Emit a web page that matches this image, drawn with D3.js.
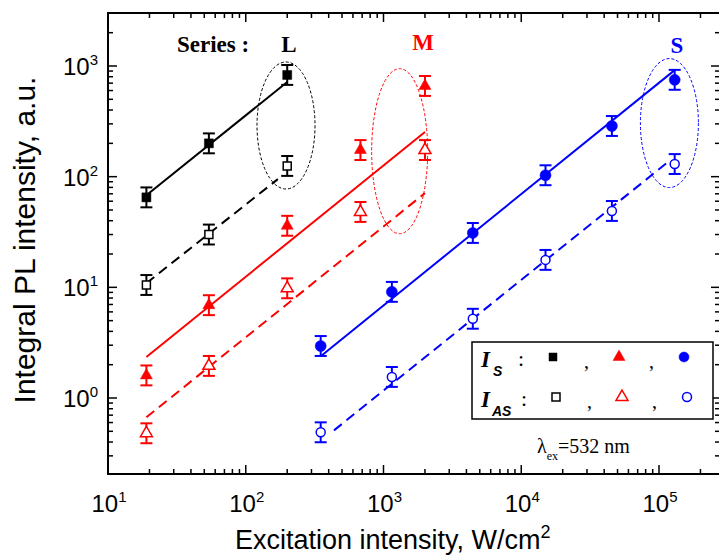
<!DOCTYPE html>
<html>
<head>
<meta charset="utf-8">
<script src="https://cdn.jsdelivr.net/npm/d3@7"></script>
<style>
  body { margin: 0; background: #fff; }
  svg { display: block; }
</style>
</head>
<body>
<svg id="chart" width="719" height="555"></svg>
<script>
// x values (excitation intensity, W/cm2)
const xL = [19, 54, 200];
const xM = [19, 54, 200, 680, 2000];
const xS = [350, 1150, 4450, 15000, 45500, 130000];

// Stokes (I_S) and anti-Stokes (I_AS) intensities, a.u.
const L_S = [65, 200, 830];
const L_AS = [10.5, 30, 125];
const M_S = [1.6, 6.9, 36, 174, 660];
const M_AS = [0.48, 1.95, 9.8, 48, 174];
const S_S = [2.95, 9.1, 31, 103, 287, 750];
const S_AS = [0.49, 1.55, 5.2, 17.7, 49, 130];

// error bars: multiplicative factor (about +-23 %)
const errFactor = 1.23;

// fitted lines, [x0, x1] and [y0, y1]
const fitL_S = [[19, 200], [68, 716]];
const fitL_AS = [[19, 171], [10.9, 95]];
const fitM_S = [[19, 2000], [2.35, 253]];
const fitM_AS = [[19, 2000], [0.67, 71]];
const fitS_S = [[352, 130000], [2.4, 918]];
const fitS_AS = [[437, 114000], [0.51, 133]];

const xTicks = [1e1, 1e2, 1e3, 1e4, 1e5];
const yTicks = [1e0, 1e1, 1e2, 1e3];

const svg = d3.select('#chart');

const pLeft = 108, pRight = 720, pTop = 13, pBottom = 474;
const x = d3.scaleLog()
  .domain([10, Math.pow(10, 1 + (pRight - pLeft) / 137.75)])
  .range([pLeft, pRight]);
const y = d3.scaleLog()
  .domain([Math.pow(10, -(pBottom - 398) / 110.67), Math.pow(10, 3 + (66 - pTop) / 110.67)])
  .range([pBottom, pTop]);

const sans = "'Liberation Sans', Arial, sans-serif";
const serif = "'Liberation Serif', 'Times New Roman', serif";
const red = '#ff0000', blue = '#0000ff';

// ellipses (annotations)
const ellipses = [
  {cx: 196, cy: 290, rx: 29, ry: 63.5, c: '#000'},
  {cx: 1310, cy: 170, rx: 28, ry: 82.5, c: red},
  {cx: 1.19e5, cy: 305, rx: 29, ry: 64.5, c: blue}
];
svg.selectAll('.ell').data(ellipses).enter().append('ellipse')
  .attr('cx', d => x(d.cx)).attr('cy', d => y(d.cy))
  .attr('rx', d => d.rx).attr('ry', d => d.ry)
  .style('fill', 'none').style('stroke', d => d.c)
  .style('stroke-width', 1).style('stroke-dasharray', '3,2');

// fit lines
const fits = [
  {f: fitL_S, c: '#000', dash: null},
  {f: fitL_AS, c: '#000', dash: '10,6'},
  {f: fitM_S, c: red, dash: null},
  {f: fitM_AS, c: red, dash: '10,6'},
  {f: fitS_S, c: blue, dash: null},
  {f: fitS_AS, c: blue, dash: '10,6'}
];
svg.selectAll('.fit').data(fits).enter().append('line')
  .attr('x1', d => x(d.f[0][0])).attr('x2', d => x(d.f[0][1]))
  .attr('y1', d => y(d.f[1][0])).attr('y2', d => y(d.f[1][1]))
  .style('stroke', d => d.c).style('stroke-width', 2)
  .style('stroke-dasharray', d => d.dash);

// marker drawing
const drawMarker = (g, shape, open, color, size) => {
  let path;
  if (shape === 'square') path = d3.symbol(d3.symbolSquare, size * size)();
  else if (shape === 'triangle') path = d3.symbol(d3.symbolTriangle, Math.sqrt(3) / 4 * size * size)();
  else path = d3.symbol(d3.symbolCircle, Math.PI * size * size / 4)();
  g.append('path').attr('d', path)
    .style('fill', open ? '#fff' : color)
    .style('stroke', color)
    .style('stroke-width', open ? 1.5 : 0.5);
};

const series = [
  {xs: xL, ys: L_S, shape: 'square', open: false, c: '#000', size: 9},
  {xs: xL, ys: L_AS, shape: 'square', open: true, c: '#000', size: 8},
  {xs: xM, ys: M_S, shape: 'triangle', open: false, c: red, size: 12},
  {xs: xM, ys: M_AS, shape: 'triangle', open: true, c: red, size: 12},
  {xs: xS, ys: S_S, shape: 'circle', open: false, c: blue, size: 11},
  {xs: xS, ys: S_AS, shape: 'circle', open: true, c: blue, size: 9}
];

series.forEach(s => {
  const pts = s.xs.map((v, i) => ({x: v, y: s.ys[i]}));
  const g = svg.append('g');
  // error bars
  pts.forEach(p => {
    const px = x(p.x), yHi = y(p.y * errFactor), yLo = y(p.y / errFactor);
    g.append('line').attr('x1', px).attr('x2', px).attr('y1', yHi).attr('y2', yLo)
      .style('stroke', s.c).style('stroke-width', 2);
    [yHi, yLo].forEach(yy => g.append('line')
      .attr('x1', px - 6).attr('x2', px + 6).attr('y1', yy).attr('y2', yy)
      .style('stroke', s.c).style('stroke-width', 2));
  });
  pts.forEach(p => {
    const m = g.append('g').attr('transform', `translate(${x(p.x)},${y(p.y)})`);
    drawMarker(m, s.shape, s.open, s.c, s.size);
  });
});

// axes frame
const axis = svg.append('g');
axis.append('rect').attr('x', pLeft).attr('y', pTop)
  .attr('width', pRight - pLeft).attr('height', pBottom - pTop)
  .style('fill', 'none').style('stroke', '#000').style('stroke-width', 2);

// x ticks (bottom and top, inward)
const xMinor = [];
[1, 2, 3, 4, 5].forEach(e => d3.range(2, 10).forEach(k => {
  const v = k * Math.pow(10, e);
  if (v < x.domain()[1]) xMinor.push(v);
}));
const tickLine = (x1, y1, x2, y2) => axis.append('line')
  .attr('x1', x1).attr('y1', y1).attr('x2', x2).attr('y2', y2)
  .style('stroke', '#000').style('stroke-width', 1.5);
xTicks.forEach(v => { tickLine(x(v), pBottom, x(v), pBottom - 9); tickLine(x(v), pTop, x(v), pTop + 9); });
xMinor.forEach(v => { tickLine(x(v), pBottom, x(v), pBottom - 5); tickLine(x(v), pTop, x(v), pTop + 5); });

const yMinor = [];
[-1, 0, 1, 2, 3].forEach(e => d3.range(2, 10).forEach(k => {
  const v = k * Math.pow(10, e);
  if (v > y.domain()[0] && v < y.domain()[1]) yMinor.push(v);
}));
yTicks.forEach(v => { tickLine(pLeft, y(v), pLeft + 9, y(v)); tickLine(pRight, y(v), pRight - 9, y(v)); });
yMinor.forEach(v => { tickLine(pLeft, y(v), pLeft + 5, y(v)); tickLine(pRight, y(v), pRight - 5, y(v)); });

// tick labels
const powLabel = (sel, v) => {
  sel.append('tspan').text('10');
  sel.append('tspan').attr('dy', -10).style('font-size', '15px').text(Math.round(Math.log10(v)));
};
xTicks.forEach(v => {
  const t = axis.append('text').attr('x', x(v) + 1).attr('y', 512)
    .attr('text-anchor', 'middle').style('font-family', sans).style('font-size', '24px');
  powLabel(t, v);
});
yTicks.forEach(v => {
  const t = axis.append('text').attr('x', 98).attr('y', y(v) + 9)
    .attr('text-anchor', 'end').style('font-family', sans).style('font-size', '24px');
  powLabel(t, v);
});

// axis titles
const xt = svg.append('text').attr('x', 235).attr('y', 549)
  .style('font-family', sans).style('font-size', '27px');
xt.append('tspan').text('Excitation intensity, W/cm');
xt.append('tspan').attr('dy', -11).style('font-size', '18px').text('2');

svg.append('text').attr('transform', 'translate(35,240) rotate(-90)')
  .attr('text-anchor', 'middle')
  .style('font-family', sans).style('font-size', '30px')
  .text('Integral PL intensity, a.u.');

// series labels
svg.append('text').attr('x', 177).attr('y', 52)
  .style('font-family', serif).style('font-weight', 'bold').style('font-size', '23px')
  .text('Series :');
[{t: 'L', x: 289, y: 52, c: '#000'}, {t: 'M', x: 423, y: 50, c: red}, {t: 'S', x: 677, y: 53, c: blue}]
  .forEach(d => svg.append('text').attr('x', d.x).attr('y', d.y).attr('text-anchor', 'middle')
    .style('font-family', serif).style('font-weight', 'bold').style('font-size', '23px')
    .style('fill', d.c).text(d.t));

// legend
const leg = svg.append('g');
leg.append('rect').attr('x', 472).attr('y', 342).attr('width', 241).attr('height', 77)
  .style('fill', '#fff').style('stroke', '#000').style('stroke-width', 1.5);
const legRows = [
  {sub: 'S', yb: 367, subX: 493, colonX: 518, open: false, commaX: [584, 649]},
  {sub: 'AS', yb: 407, subX: 492, colonX: 521, open: true, commaX: [587, 652]}
];
const legShapes = [
  {shape: 'square', c: '#000', x: 553},
  {shape: 'triangle', c: red, x: 619},
  {shape: 'circle', c: blue, x: 684}
];
legRows.forEach(r => {
  leg.append('text').attr('x', 481).attr('y', r.yb)
    .style('font-family', serif).style('font-weight', 'bold').style('font-style', 'italic')
    .style('font-size', '23px').text('I');
  leg.append('text').attr('x', r.subX).attr('y', r.yb + 9)
    .style('font-family', sans).style('font-weight', 'bold').style('font-style', 'italic')
    .style('font-size', '14px').text(r.sub);
  leg.append('text').attr('x', r.colonX).attr('y', r.yb - 1)
    .style('font-family', serif).style('font-size', '22px').text(':');
  r.commaX.forEach(cx => leg.append('text').attr('x', cx).attr('y', r.yb + 1)
    .style('font-family', serif).style('font-size', '20px').text(','));
  legShapes.forEach(s => {
    const m = leg.append('g').attr('transform', `translate(${s.x + (r.open ? 3 : 0)},${r.yb - 10})`);
    const size = s.shape === 'triangle' ? 12 : (s.shape === 'circle' ? (r.open ? 9 : 10) : 8);
    drawMarker(m, s.shape, r.open, s.c, size);
  });
});

// excitation wavelength
const lt = svg.append('text').attr('x', 537).attr('y', 453)
  .style('font-family', serif).style('font-size', '20px');
lt.append('tspan').text('λ');
lt.append('tspan').attr('dy', 7).style('font-size', '12px').text('ex');
lt.append('tspan').attr('dy', -7).text('=532 nm');
</script>
</body>
</html>
